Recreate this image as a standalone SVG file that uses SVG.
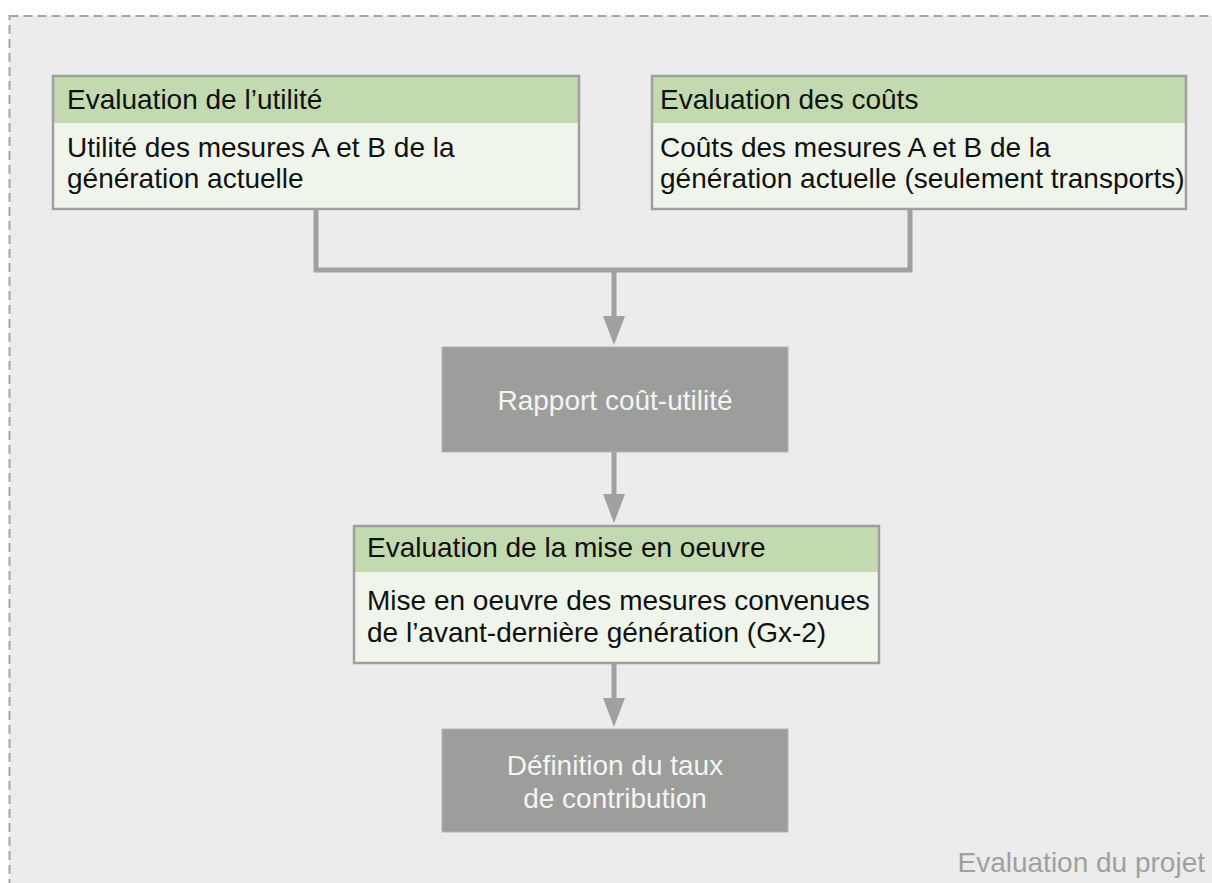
<svg xmlns="http://www.w3.org/2000/svg" width="1212" height="883" viewBox="0 0 1212 883">
<style>
  text { font-family: "Liberation Sans", Arial, sans-serif; font-size: 28px; }
  .hdr { fill: #c3dab0; }
  .body { fill: #f0f5ec; }
  .frame { fill: none; stroke: #9f9f9f; stroke-width: 2.5; }
  .dark { fill: #111; }
  .gbox { fill: #9d9d9c; stroke: #b4b4b4; stroke-width: 1; }
  .wt { fill: #f4f4f4; text-anchor: middle; }
  .conn { fill: none; stroke: #a0a0a0; stroke-width: 5; }
</style>
<defs>
  <marker id="arr" markerUnits="userSpaceOnUse" markerWidth="32" markerHeight="24" viewBox="0 -12 30 24" refX="19" refY="0" orient="auto">
    <path d="M0,-11 L29,0 L0,11 z" fill="#a0a0a0"/>
  </marker>
</defs>
<rect x="0" y="0" width="1212" height="883" fill="#ffffff"/>
<g id="frame">
  <rect x="9.5" y="16" width="1230" height="900" fill="#ececec" stroke="#a6a6a6" stroke-width="2" stroke-dasharray="9,5"/>
  <text x="1205" y="872" fill="#a0a0a0" text-anchor="end">Evaluation du projet</text>
</g>
<g id="connectors">
  <polyline class="conn" points="316,209 316,270 910,270 910,209"/>
  <line class="conn" x1="614" y1="270" x2="614" y2="335" marker-end="url(#arr)"/>
  <line class="conn" x1="614" y1="452" x2="614" y2="513" marker-end="url(#arr)"/>
  <line class="conn" x1="614" y1="663" x2="614" y2="717" marker-end="url(#arr)"/>
</g>
<g id="node-utilite">
  <rect class="body" x="53" y="76" width="526" height="133"/>
  <rect class="hdr" x="53" y="76" width="526" height="47"/>
  <rect class="frame" x="53" y="76" width="526" height="133"/>
  <text class="dark" x="67" y="109">Evaluation de l’utilité</text>
  <text class="dark" x="67" y="157">Utilité des mesures A et B de la</text>
  <text class="dark" x="67" y="188">génération actuelle</text>
</g>
<g id="node-couts">
  <rect class="body" x="652" y="76" width="534" height="133"/>
  <rect class="hdr" x="652" y="76" width="534" height="47"/>
  <rect class="frame" x="652" y="76" width="534" height="133"/>
  <text class="dark" x="660" y="109">Evaluation des coûts</text>
  <text class="dark" x="660" y="157">Coûts des mesures A et B de la</text>
  <text class="dark" x="660" y="188">génération actuelle (seulement transports)</text>
</g>
<g id="node-rapport">
  <rect class="gbox" x="442" y="347" width="346" height="105"/>
  <text class="wt" x="615" y="410">Rapport coût-utilité</text>
</g>
<g id="node-mise">
  <rect class="body" x="354" y="526" width="525" height="137"/>
  <rect class="hdr" x="354" y="526" width="525" height="46"/>
  <rect class="frame" x="354" y="526" width="525" height="137"/>
  <text class="dark" x="367" y="557">Evaluation de la mise en oeuvre</text>
  <text class="dark" x="367" y="610">Mise en oeuvre des mesures convenues</text>
  <text class="dark" x="367" y="642">de l’avant-dernière génération (Gx-2)</text>
</g>
<g id="node-definition">
  <rect class="gbox" x="442" y="729" width="346" height="103"/>
  <text class="wt" x="615" y="775">Définition du taux</text>
  <text class="wt" x="615" y="808">de contribution</text>
</g>
</svg>
